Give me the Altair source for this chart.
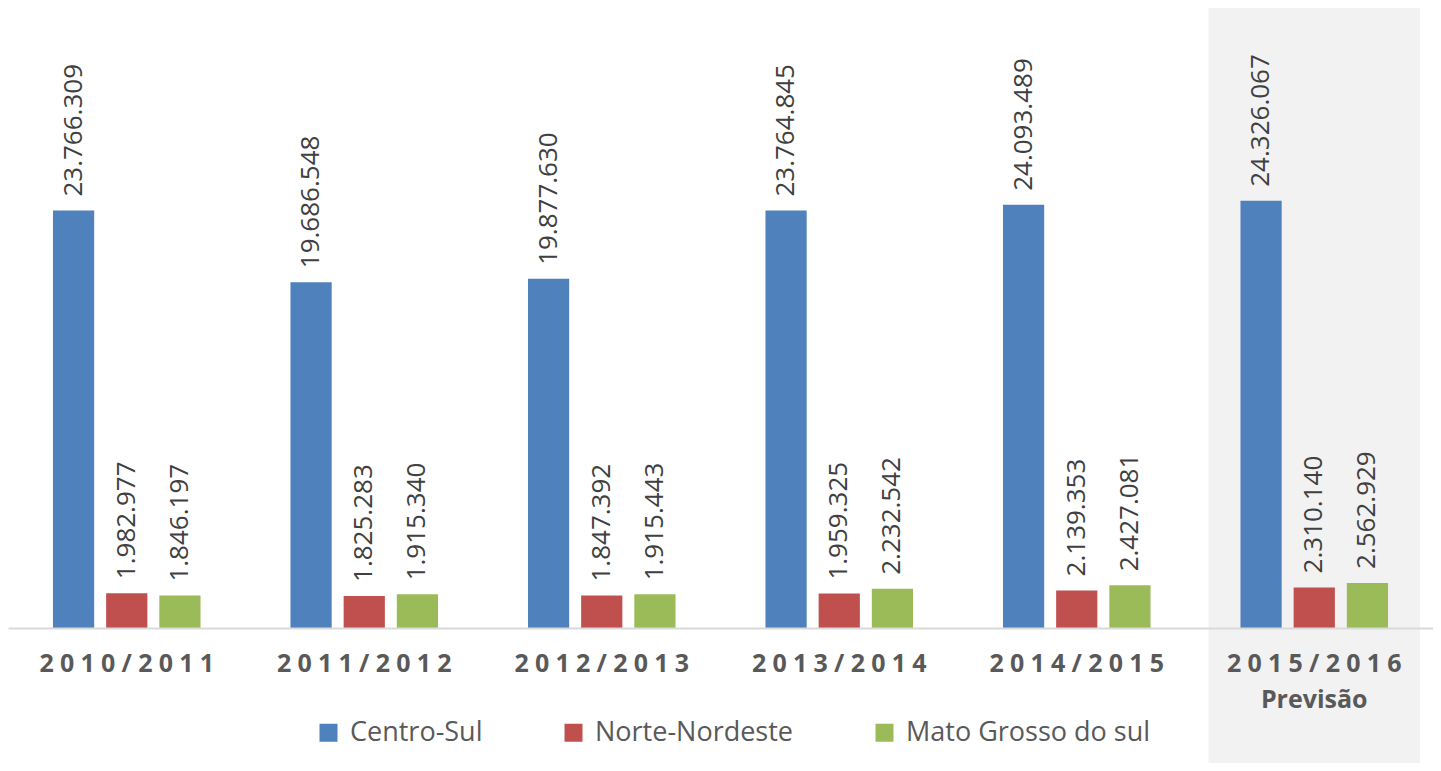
import altair as alt
import pandas as pd

seasons = ["2010/2011", "2011/2012", "2012/2013", "2013/2014", "2014/2015", "2015/2016"]
series = ["Centro-Sul", "Norte-Nordeste", "Mato Grosso do sul"]
centro_sul = [23766309, 19686548, 19877630, 23764845, 24093489, 24326067]
norte_nordeste = [1982977, 1825283, 1847392, 1959325, 2139353, 2310140]
mato_grosso = [1846197, 1915340, 1915443, 2232542, 2427081, 2562929]
colors = ["#4f81bd", "#c0504d", "#9bbb59"]
highlight = ["2015/2016"]
highlight_note = "Previsão"

rows = []
for s, vals in zip(series, [centro_sul, norte_nordeste, mato_grosso]):
    for season, v in zip(seasons, vals):
        rows.append({"season": season, "serie": s, "value": v,
                     "label": f"{v:,}".replace(",", ".")})
df = pd.DataFrame(rows)
hl = pd.DataFrame({"season": highlight})

SP = "\u2005"
def spaced(t):
    return SP.join(list(t))

expr = "datum.value"
for s in reversed(seasons):
    if s in highlight:
        lab = "['" + spaced(s) + "', '" + highlight_note + "']"
    else:
        lab = "'" + spaced(s) + "'"
    expr = f"datum.value == '{s}' ? {lab} : ({expr})"

x_enc = alt.X(
    "season:N",
    sort=seasons,
    scale=alt.Scale(domain=seasons, paddingInner=0.11, paddingOuter=0.055),
    axis=alt.Axis(
        title=None, labelAngle=0, ticks=False, domainColor="#d9d9d9", domainWidth=2,
        labelFont="Open Sans", labelFontWeight="bold", labelFontSize=25,
        labelColor="#595959", labelPadding=23, labelLineHeight=36,
        labelExpr=expr, zindex=1, labelLimit=400,
    ),
)
xoff = alt.XOffset("serie:N", sort=series,
                   scale=alt.Scale(domain=series, paddingInner=0.225, paddingOuter=0.6))
y_enc = alt.Y("value:Q", scale=alt.Scale(domain=[0, 35300000], nice=False), axis=None)

bg = alt.Chart(hl).mark_rect(color="#f2f2f2").encode(
    x=x_enc, y=alt.value(0), y2=alt.value(755)
)

bars = alt.Chart(df).mark_bar().encode(
    x=x_enc,
    xOffset=xoff,
    y=y_enc,
    color=alt.Color(
        "serie:N", sort=series,
        scale=alt.Scale(domain=series, range=colors),
        legend=alt.Legend(
            title=None, orient="none", direction="horizontal",
            legendX=307, legendY=711, padding=0,
            labelFont="Open Sans", labelFontSize=27, labelColor="#595959",
            symbolType="square", symbolSize=324, symbolStrokeWidth=0,
            labelOffset=8, columnPadding=77, labelLimit=400,
        ),
    ),
)

texts = alt.Chart(df).mark_text(
    angle=270, align="left", baseline="middle", dx=14,
    font="Open Sans", fontSize=26, color="#404040",
).encode(x=x_enc, xOffset=xoff, y=y_enc, text="label:N")

chart = alt.layer(bg, bars, texts).properties(
    width=1425, height=620,
    padding={"left": 0, "top": 0, "right": 0, "bottom": 0},
).configure_view(stroke=None)

chart.save("out.html", embed_options={"renderer": "svg", "actions": False})
